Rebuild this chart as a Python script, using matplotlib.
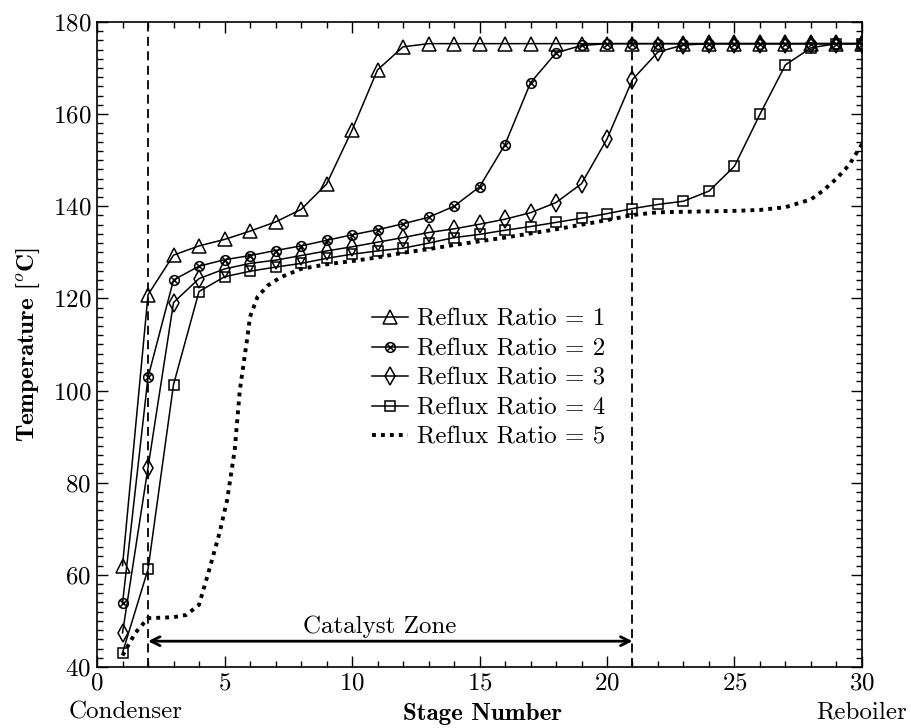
import matplotlib
matplotlib.use('Agg')
import matplotlib.pyplot as plt
from matplotlib.path import Path
from matplotlib.ticker import MultipleLocator

plt.rcParams['font.family'] = 'cmr10'
plt.rcParams['mathtext.fontset'] = 'cm'
plt.rcParams['axes.formatter.use_mathtext'] = True

stages = list(range(1, 31))

rr1 = [62.0, 120.8, 129.4, 131.4, 132.8, 134.6, 136.6, 139.3, 144.8, 156.5,
       169.6, 174.6] + [175.3] * 18
rr2 = [53.8, 102.9, 124.0, 127.0, 128.4, 129.3, 130.4, 131.4, 132.6, 133.8,
       134.9, 136.2, 137.6, 140.0, 144.2, 153.4, 166.8, 173.3, 174.9] + [175.3] * 11
rr3 = [47.4, 83.3, 119.1, 124.3, 126.4, 127.6, 128.3, 129.3, 130.3, 131.2,
       132.2, 133.2, 134.3, 135.1, 136.1, 137.2, 138.6, 140.8, 144.9, 154.6,
       167.5, 173.5, 175.0] + [175.3] * 7
rr4 = [43.1, 61.2, 101.3, 121.5, 124.7, 125.9, 126.8, 127.6, 128.7, 129.6,
       130.3, 130.9, 132.0, 133.2, 133.9, 134.8, 135.6, 136.5, 137.4, 138.4,
       139.5, 140.4, 141.1, 143.3, 148.7, 160.0, 170.7, 174.4, 175.3, 175.3]

# reflux ratio 5 has no markers, read at a finer step where it climbs
stages5 = [1, 1.5, 2, 2.5, 3, 3.5, 4, 4.4, 4.8, 5.1, 5.4, 5.6, 5.9, 6.0, 6.3,
           6.7, 7.2, 8, 9, 10, 11, 12, 13, 14, 15, 16, 17, 18, 19, 20, 21, 22,
           23, 24, 25, 26, 27, 28, 28.5, 29, 29.5, 30]
rr5 = [42.5, 47.4, 50.6, 50.7, 50.8, 51.3, 53.5, 61.1, 69.0, 76.2, 87.1, 100.1,
       111.7, 116.0, 120.4, 122.8, 124.6, 126.4, 127.4, 128.1, 128.9, 129.9,
       130.7, 131.6, 132.4, 133.2, 134.1, 135.0, 136.0, 137.0, 138.1, 138.7,
       138.8, 138.9, 139.0, 139.2, 139.8, 141.5, 143.5, 146.0, 149.0, 153.5]

labels = ['Reflux Ratio = 1', 'Reflux Ratio = 2', 'Reflux Ratio = 3',
          'Reflux Ratio = 4', 'Reflux Ratio = 5']
zone_start = 2
zone_end = 21


def circle_cross():
    circ = Path.unit_circle()
    d = 0.7071
    cross = Path([(-d, -d), (d, d), (-d, d), (d, -d)],
                 [Path.MOVETO, Path.LINETO, Path.MOVETO, Path.LINETO])
    return Path.make_compound_path(circ, cross)


def main():
    fig = plt.figure(figsize=(9.11, 7.28), dpi=100)
    ax = fig.add_axes([0.1065, 0.0838, 0.8397, 0.886])

    kw = dict(color='black', lw=1.1, mfc='none', mec='black', mew=1.1)
    ax.plot(stages, rr1, marker='^', ms=10, label=labels[0], **kw)
    ax.plot(stages, rr2, marker=circle_cross(), ms=7, label=labels[1], **kw)
    ax.plot(stages, rr3, marker='d', ms=9, label=labels[2], **kw)
    ax.plot(stages, rr4, marker='s', ms=7, label=labels[3], **kw)
    ax.plot(stages5, rr5, color='black', lw=2.8, ls=(0, (1, 1.3)),
            label=labels[4])

    ax.axvline(zone_start, color='black', lw=1.3, ls=(0, (5, 3)))
    ax.axvline(zone_end, color='black', lw=1.3, ls=(0, (5, 3)))
    ax.annotate('', xy=(zone_start, 45.6), xytext=(zone_end, 45.6),
                arrowprops=dict(arrowstyle='<->', lw=2, color='black',
                                shrinkA=0, shrinkB=0, mutation_scale=16))
    ax.text(11.1, 48.8, 'Catalyst Zone', ha='center', va='center', fontsize=18)

    ax.set_xlim(0, 30)
    ax.set_ylim(40, 180)
    ax.xaxis.set_major_locator(MultipleLocator(5))
    ax.xaxis.set_minor_locator(MultipleLocator(1))
    ax.yaxis.set_major_locator(MultipleLocator(20))
    ax.yaxis.set_minor_locator(MultipleLocator(2))
    ax.tick_params(which='both', direction='in', top=True, right=True,
                   labelsize=18, width=1)
    ax.tick_params(which='major', length=8, pad=4)
    ax.tick_params(which='minor', length=4.5)
    for s in ax.spines.values():
        s.set_linewidth(1.2)

    ax.set_ylabel('Temperature [$^o$C]', family='cmb10', fontsize=18,
                  labelpad=8)
    fig.text(0.53, 0.004, 'Stage Number', family='cmb10', fontsize=18,
             ha='center', va='bottom')
    fig.text(0.075, 0.006, 'Condenser', fontsize=18, ha='left', va='bottom')
    fig.text(0.996, 0.006, 'Reboiler', fontsize=18, ha='right', va='bottom')

    ax.legend(loc='upper left', bbox_to_anchor=(0.3595, 0.556), frameon=False,
              fontsize=18, handlelength=1.45, handletextpad=0.35,
              labelspacing=0.28, borderpad=0, borderaxespad=0)

    fig.savefig('out.png', dpi=100)


if __name__ == '__main__':
    main()
